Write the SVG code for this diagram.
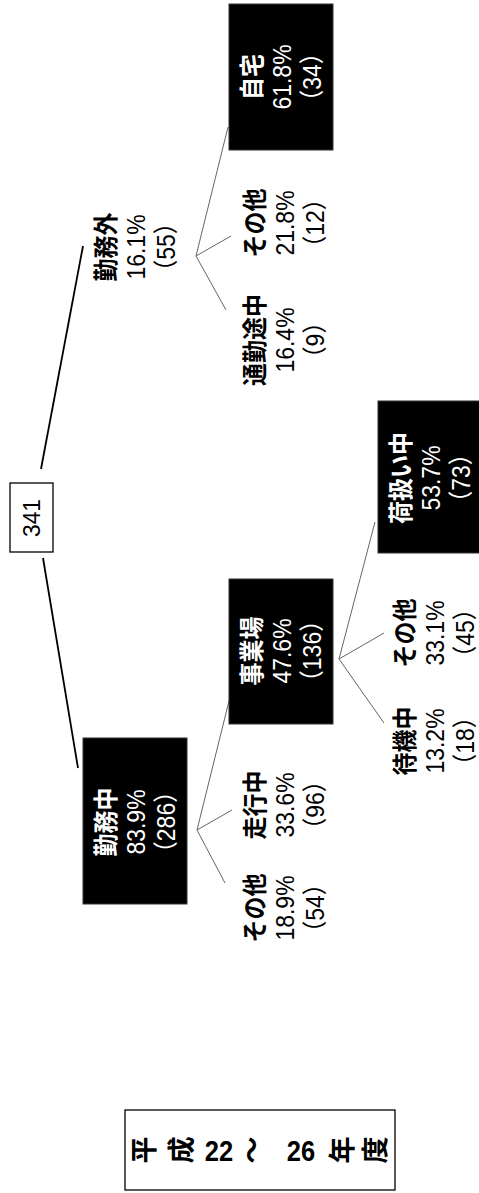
<svg xmlns="http://www.w3.org/2000/svg" width="479" height="1193" viewBox="0 0 479 1193">
<style>
  text { font-family: "Liberation Sans", "Noto Sans CJK JP", sans-serif; font-size: 25px; text-anchor: middle; }
  .w { fill: #fff; }
  .k { fill: #000; }
  .b { font-weight: bold; }
  .box { fill: #000; stroke: #333; stroke-width: 1; }
  .main { stroke: #000; stroke-width: 1.8; fill: none; }
  .sub { stroke: #666; stroke-width: 1; fill: none; }
  .frame { fill: #fff; stroke: #000; stroke-width: 1.3; }
  .title { font-weight: bold; font-size: 27px; }
  .tnum { font-weight: bold; font-size: 30px; }
</style>
<rect width="479" height="1193" fill="#fff"/>
<g id="connectors">
  <line class="main" x1="41" y1="469" x2="83" y2="246"/>
  <line class="main" x1="43" y1="558" x2="78" y2="768"/>
  <polyline class="sub" points="231,236 196,256 226,310"/>
  <line class="sub" x1="196" y1="256" x2="228" y2="127"/>
  <polyline class="sub" points="384,633 339,659 384,723"/>
  <line class="sub" x1="339" y1="659" x2="375" y2="522"/>
  <polyline class="sub" points="232,810 197,830 225,883"/>
  <line class="sub" x1="197" y1="830" x2="229" y2="701"/>
</g>
<g id="root">
  <rect class="frame" x="10" y="483" width="43" height="69"/>
  <text class="k" transform="translate(40,518) rotate(-90) scale(0.95,1)" style="font-size:24px">341</text>
</g>
<g id="kinmugai">
  <text class="k" transform="translate(115,247) rotate(-90) scale(0.92,1)"><tspan x="0" y="0" class="b">勤務外</tspan><tspan x="0" y="30">16.1%</tspan><tspan x="0" y="60">（55）</tspan></text>
</g>
<g id="jitaku">
  <rect class="box" x="229" y="4" width="104" height="146"/>
  <text class="w" transform="translate(261,77) rotate(-90) scale(0.92,1)"><tspan x="0" y="0" class="b">自宅</tspan><tspan x="0" y="30">61.8%</tspan><tspan x="0" y="60">（34）</tspan></text>
</g>
<g id="sonota-gai">
  <text class="k" transform="translate(264,223) rotate(-90) scale(0.92,1)"><tspan x="0" y="0" class="b">その他</tspan><tspan x="0" y="30">21.8%</tspan><tspan x="0" y="60">（12）</tspan></text>
</g>
<g id="tsukin">
  <text class="k" transform="translate(264,340) rotate(-90) scale(0.92,1)"><tspan x="0" y="0" class="b">通勤途中</tspan><tspan x="0" y="30">16.4%</tspan><tspan x="0" y="60">（9）</tspan></text>
</g>
<g id="niatsukai">
  <rect class="box" x="378" y="401" width="104" height="152"/>
  <text class="w" transform="translate(410,478) rotate(-90) scale(0.92,1)"><tspan x="0" y="0" class="b">荷扱い中</tspan><tspan x="0" y="30">53.7%</tspan><tspan x="0" y="60">（73）</tspan></text>
</g>
<g id="jigyojo">
  <rect class="box" x="229" y="579" width="104" height="145"/>
  <text class="w" transform="translate(261,651) rotate(-90) scale(0.92,1)"><tspan x="0" y="0" class="b">事業場</tspan><tspan x="0" y="30">47.6%</tspan><tspan x="0" y="60">（136）</tspan></text>
</g>
<g id="sonota-jigyo">
  <text class="k" transform="translate(414,633) rotate(-90) scale(0.92,1)"><tspan x="0" y="0" class="b">その他</tspan><tspan x="0" y="30">33.1%</tspan><tspan x="0" y="60">（45）</tspan></text>
</g>
<g id="taiki">
  <text class="k" transform="translate(414,741) rotate(-90) scale(0.92,1)"><tspan x="0" y="0" class="b">待機中</tspan><tspan x="0" y="30">13.2%</tspan><tspan x="0" y="60">（18）</tspan></text>
</g>
<g id="kinmuchu">
  <rect class="box" x="83" y="738" width="104" height="166"/>
  <text class="w" transform="translate(115,822) rotate(-90) scale(0.92,1)"><tspan x="0" y="0" class="b">勤務中</tspan><tspan x="0" y="30">83.9%</tspan><tspan x="0" y="60">（286）</tspan></text>
</g>
<g id="soko">
  <text class="k" transform="translate(264,805) rotate(-90) scale(0.92,1)"><tspan x="0" y="0" class="b">走行中</tspan><tspan x="0" y="30">33.6%</tspan><tspan x="0" y="60">（96）</tspan></text>
</g>
<g id="sonota-kinmu">
  <text class="k" transform="translate(264,908) rotate(-90) scale(0.92,1)"><tspan x="0" y="0" class="b">その他</tspan><tspan x="0" y="30">18.9%</tspan><tspan x="0" y="60">（54）</tspan></text>
</g>
<g id="title">
  <rect class="frame" x="125" y="1110" width="270" height="80"/>
  <text class="k title" transform="translate(154,1150) rotate(-90)">平</text>
  <text class="k title" transform="translate(191,1150) rotate(-90)">成</text>
  <text class="k tnum" transform="translate(219,1161) scale(0.85,1)">22</text>
  <text class="k title" transform="translate(262,1150) rotate(-90)">～</text>
  <text class="k tnum" transform="translate(301,1161) scale(0.85,1)">26</text>
  <text class="k title" transform="translate(352,1150) rotate(-90)">年</text>
  <text class="k title" transform="translate(385,1150) rotate(-90)">度</text>
</g>
</svg>
